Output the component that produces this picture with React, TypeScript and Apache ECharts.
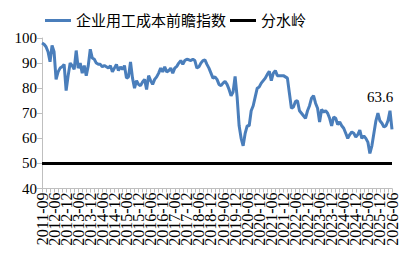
import React, { useEffect, useRef } from "react";
import * as echarts from "echarts";

const earlyMonths = ["2011-09", "2011-10", "2011-11", "2011-12", "2012-02", "2012-04"];
const monthlyStart = { year: 2012, month: 6 };
const monthlyEnd = { year: 2026, month: 6 };
const labelEvery = 6;

const seriesName = "企业用工成本前瞻指数";
const thresholdName = "分水岭";
const thresholdValue = 50;
const lastLabel = "63.6";

const costIndex = [
  98, 97.5, 96.5, 94.5, 90.5, 97, 94.5, 83.5, 86.5, 88,
  88.5, 89.5, 79, 85, 90, 89, 87.5, 95, 88, 90,
  86, 89, 85, 89, 95.5, 92, 91.5, 90, 89.5, 89.5,
  88.5, 89, 88.5, 88, 89, 86.5, 88, 89.5, 87, 88.5,
  87.5, 89, 84, 84.5, 90.5, 84, 80, 83, 81.5, 81,
  82.5, 83.5, 79.5, 85, 83, 81.5, 83.5, 84.5, 86, 88,
  86.5, 88.5, 86.5, 87, 88, 86, 88, 88.7, 90, 91,
  89.5, 91, 91.5, 91.3, 91, 91.5, 91, 88, 88.5, 90,
  91, 91.3, 89.5, 88, 86, 84, 84.5, 83.5, 81.5, 81,
  82, 82.7, 81.5, 79.5, 77, 78.5, 84.7, 76.5, 65, 60,
  57, 62, 65, 65, 71, 73, 76.5, 80, 80.5, 82,
  83, 84, 85.5, 86.7, 83, 86, 87, 85, 85, 85,
  85, 84.5, 84, 78, 72, 72.5, 74.7, 75, 71, 70,
  69, 68, 71, 73, 76, 77, 74, 72, 66.5, 71.5,
  70.5, 71, 70, 68, 65, 68.5, 68, 65.5, 66.5, 65,
  64, 62, 60, 61.5, 62.5, 62, 60.5, 61.5, 63.3, 60,
  61, 60, 58.5, 54, 57, 62, 67, 70, 67, 66,
  64.5, 65, 67, 71, 63.6,
];

function buildCategories(): string[] {
  const out = [...earlyMonths];
  let y = monthlyStart.year;
  let m = monthlyStart.month;
  while (y < monthlyEnd.year || (y === monthlyEnd.year && m <= monthlyEnd.month)) {
    out.push(`${y}-${String(m).padStart(2, "0")}`);
    m++;
    if (m > 12) {
      m = 1;
      y++;
    }
  }
  return out;
}

const FONT = "'Liberation Serif', 'Times New Roman', 'Noto Sans CJK SC', serif";

export default function App() {
  const ref = useRef<HTMLDivElement>(null);
  useEffect(() => {
    if (!ref.current) return;
    const chart = echarts.init(ref.current, null, { renderer: "svg" });
    const categories = buildCategories();
    const lastIdx = costIndex.length - 1;
    chart.setOption({
      animation: false,
      textStyle: { fontFamily: FONT },
      legend: {
        left: 40,
        top: 8,
        icon: "rect",
        itemWidth: 26,
        itemHeight: 3,
        itemGap: 4,
        textStyle: { fontSize: 15, color: "#000", fontFamily: FONT },
        data: [seriesName, thresholdName],
      },
      grid: { left: 42, right: 14, top: 38, bottom: 67.5, containLabel: false },
      xAxis: {
        type: "category",
        data: categories,
        boundaryGap: false,
        axisLine: { lineStyle: { color: "#bfbfbf", width: 1 } },
        axisTick: { show: true, interval: 1, length: 4, lineStyle: { color: "#bfbfbf" } },
        axisLabel: {
          interval: 0,
          formatter: (val: string, idx: number) => (idx % labelEvery === 0 ? val : ""),
          hideOverlap: false,
          rotate: 90,
          fontSize: 16,
          lineHeight: 12,
          fontFamily: FONT,
          color: "#000",
          margin: 4,
        },
        splitLine: { show: false },
      },
      yAxis: {
        type: "value",
        min: 40,
        max: 100,
        interval: 10,
        axisLine: { show: true, lineStyle: { color: "#bfbfbf", width: 1 } },
        axisTick: { show: true, length: 5, lineStyle: { color: "#bfbfbf" } },
        axisLabel: { fontSize: 15, fontFamily: FONT, color: "#000", margin: 5 },
        splitLine: { show: false },
      },
      series: [
        {
          name: seriesName,
          type: "line",
          data: costIndex,
          symbol: "none",
          color: "#4a7ebb",
          lineStyle: { color: "#4a7ebb", width: 3 },
          markPoint: {
            silent: true,
            symbol: "circle",
            symbolSize: 1,
            itemStyle: { color: "rgba(0,0,0,0)" },
            label: {
              show: true,
              position: "top",
              distance: 24,
              offset: [-12, 0],
              formatter: lastLabel,
              fontSize: 15,
              fontFamily: FONT,
              color: "#000",
            },
            data: [{ coord: [categories[lastIdx], costIndex[lastIdx]] }],
          },
        },
        {
          name: thresholdName,
          type: "line",
          data: [],
          symbol: "none",
          color: "#000",
          lineStyle: { color: "#000", width: 3 },
          markLine: {
            silent: true,
            symbol: "none",
            label: { show: false },
            lineStyle: { color: "#000", width: 3, type: "solid" },
            data: [{ yAxis: thresholdValue }],
          },
        },
      ],
    });
    return () => chart.dispose();
  }, []);
  return (
    <div
      ref={ref}
      style={{ position: "fixed", left: 0, top: 0, width: 406, height: 256, background: "#fff" }}
    />
  );
}
